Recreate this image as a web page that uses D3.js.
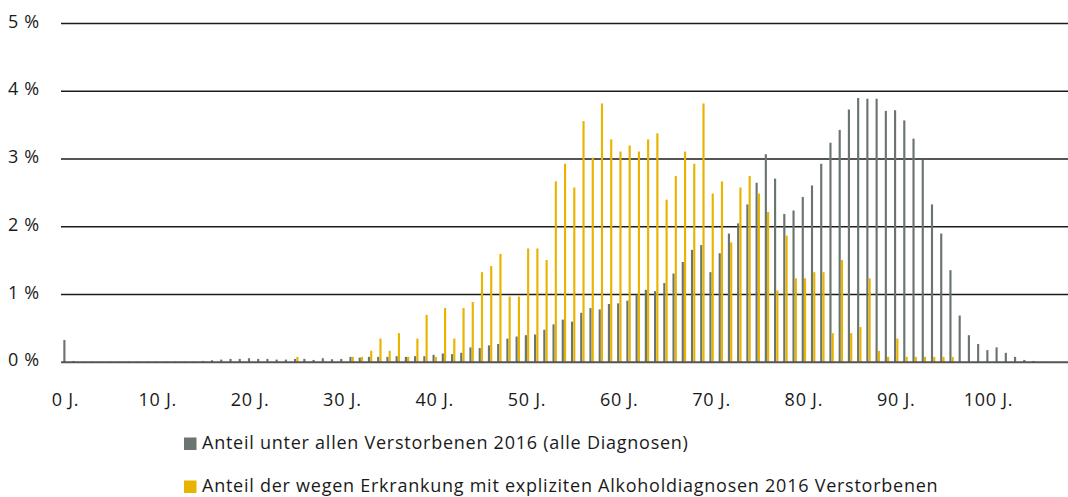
<!DOCTYPE html>
<html>
<head>
<meta charset="utf-8">
<script src="https://cdn.jsdelivr.net/npm/d3@7/dist/d3.min.js"></script>
<style>
  body { margin: 0; background: #fff; }
  svg text { font-family: "Open Sans", "DejaVu Sans", sans-serif; fill: #1a1a1a; font-size: 18px; letter-spacing: 0.75px; }
</style>
</head>
<body>
<div id="chart"></div>
<script>
window.onload = function() {
    'use strict';

    // ages 0..106
    var ages = d3.range(0, 107);

    // share of all deaths 2016 (in %)
    var allDeaths = [
        0.33, 0.02, 0.01, 0.01, 0.01, 0.01, 0.01, 0.01, 0.01, 0.01,
        0.01, 0.01, 0.01, 0.01, 0.01, 0.02, 0.03, 0.04, 0.05, 0.05,
        0.06, 0.05, 0.05, 0.04, 0.04, 0.05, 0.05, 0.035, 0.06, 0.045,
        0.05, 0.08, 0.07, 0.08, 0.08, 0.08, 0.09, 0.08, 0.09, 0.09,
        0.11, 0.13, 0.12, 0.14, 0.22, 0.21, 0.25, 0.27, 0.35, 0.38,
        0.40, 0.41, 0.48, 0.56, 0.63, 0.60, 0.73, 0.80, 0.78, 0.86,
        0.87, 0.91, 1.00, 1.07, 1.05, 1.17, 1.31, 1.48, 1.66, 1.73,
        1.33, 1.61, 1.90, 2.05, 2.33, 2.65, 3.07, 2.71, 2.19, 2.24,
        2.44, 2.61, 2.93, 3.24, 3.43, 3.73, 3.90, 3.89, 3.89, 3.71,
        3.72, 3.57, 3.30, 2.99, 2.33, 1.90, 1.36, 0.69, 0.40, 0.27,
        0.18, 0.22, 0.14, 0.08, 0.035, 0.02, 0.01
    ];

    // share of deaths with explicit alcohol diagnosis 2016 (in %)
    var alcoholDeaths = [
        0, 0, 0, 0, 0, 0, 0, 0, 0, 0,
        0, 0, 0, 0, 0, 0, 0, 0, 0, 0,
        0, 0, 0, 0, 0, 0.08, 0, 0, 0, 0,
        0, 0.08, 0.08, 0.17, 0.35, 0.17, 0.43, 0.08, 0.35, 0.70,
        0.08, 0.80, 0.35, 0.80, 0.89, 1.33, 1.42, 1.60, 0.97, 0.97,
        1.68, 1.68, 1.51, 2.67, 2.93, 2.58, 3.56, 3.02, 3.82, 3.29,
        3.11, 3.20, 3.11, 3.29, 3.38, 2.40, 2.75, 3.11, 2.93, 3.82,
        2.49, 2.67, 1.77, 2.58, 2.75, 2.49, 2.22, 1.06, 1.87, 1.24,
        1.24, 1.33, 1.33, 0.43, 1.51, 0.43, 0.52, 1.24, 0.17, 0.08,
        0.35, 0.08, 0.08, 0.08, 0.08, 0.08, 0.08, 0, 0, 0,
        0, 0, 0, 0, 0, 0, 0
    ];

    var yTicks = [0, 1, 2, 3, 4, 5];
    var xTicks = [0, 10, 20, 30, 40, 50, 60, 70, 80, 90, 100];

    var seriesNames = [
        "Anteil unter allen Verstorbenen 2016 (alle Diagnosen)",
        "Anteil der wegen Erkrankung mit expliziten Alkoholdiagnosen 2016 Verstorbenen"
    ];
    var colors = ["#6b7570", "#e9b400"];

    var width = 1068;
    var height = 497;

    var svg = d3.select('#chart')
        .append('svg')
        .attr('width', width)
        .attr('height', height);

    var x = d3.scaleBand()
        .domain(ages)
        .range([63.3, 1046.1])
        .paddingInner(0.52)
        .paddingOuter(0);

    var xSub = d3.scaleBand()
        .domain([0, 1])
        .range([0, x.bandwidth()])
        .paddingInner(0.05);

    var y = d3.scaleLinear()
        .domain([0, 5])
        .range([362.3, 23.5]);

    // gridlines
    svg.append('g')
        .selectAll('line')
        .data(yTicks.filter(function(d) { return d > 0; }))
        .enter()
        .append('line')
        .attr('x1', 61)
        .attr('x2', width)
        .attr('y1', function(d) { return y(d); })
        .attr('y2', function(d) { return y(d); })
        .attr('stroke', '#1c1c1c')
        .attr('stroke-width', 1.6);

    // y labels
    svg.append('g')
        .selectAll('text')
        .data(yTicks)
        .enter()
        .append('text')
        .attr('x', 40)
        .attr('y', function(d) { return y(d) + 4; })
        .attr('text-anchor', 'end')
        .text(function(d) { return d + ' %'; });

    // bars
    var seriesData = [allDeaths, alcoholDeaths];
    seriesData.forEach(function(values, s) {
        svg.append('g')
            .selectAll('rect')
            .data(values)
            .enter()
            .append('rect')
            .attr('x', function(d, i) { return x(ages[i]) + xSub(s); })
            .attr('width', xSub.bandwidth())
            .attr('y', function(d) { return y(d); })
            .attr('height', function(d) { return y(0) - y(d); })
            .attr('fill', colors[s]);
    });

    // baseline
    svg.append('line')
        .attr('x1', 61)
        .attr('x2', width)
        .attr('y1', y(0))
        .attr('y2', y(0))
        .attr('stroke', '#555')
        .attr('stroke-width', 2);

    // x labels
    svg.append('g')
        .selectAll('text')
        .data(xTicks)
        .enter()
        .append('text')
        .attr('x', function(d) { return x(d) + x.bandwidth() / 2; })
        .attr('y', 406)
        .attr('text-anchor', 'middle')
        .text(function(d) { return d + ' J.'; });

    // legend
    var legend = svg.append('g')
        .selectAll('g')
        .data(seriesNames)
        .enter()
        .append('g')
        .attr('transform', function(d, i) { return 'translate(184,' + (449 + i * 43) + ')'; });

    legend.append('rect')
        .attr('x', 0)
        .attr('y', -11.5)
        .attr('width', 12.5)
        .attr('height', 12.5)
        .attr('fill', function(d, i) { return colors[i]; });

    legend.append('text')
        .attr('x', 18)
        .attr('y', 0)
        .text(function(d) { return d; });
};
</script>
</body>
</html>
